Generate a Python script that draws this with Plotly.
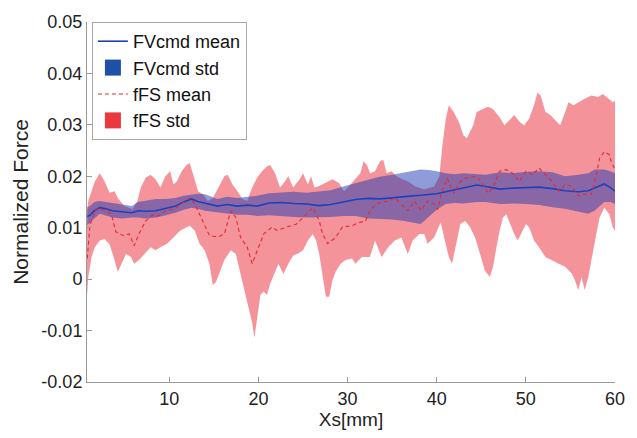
import plotly.graph_objects as go

# ---------------- data ----------------
fv_x = [0.8, 1.1, 1.6, 2.2, 2.9, 3.6, 4.7, 5.8, 6.5, 7.3, 8.5, 9.6, 10.7, 11.6, 12.5, 13.2,
        14.0, 15.4, 16.5, 17.6, 18.8, 19.85, 21.2, 22.6, 24.0, 25.4, 26.8, 28.1, 29.5, 30.9,
        32.3, 33.6, 35.0, 36.4, 37.3, 38.2, 39.1, 40.0, 41.0, 42.0, 43.0, 44.5, 45.5, 47.1,
        48.5, 50.0, 51.5, 53.0, 54.4, 55.9, 57.0, 57.7, 58.8, 59.5, 60.0]
fv_mean = [0.0122, 0.0124, 0.0133, 0.0139, 0.0137, 0.0133, 0.0131, 0.0129, 0.0133, 0.0132,
           0.0133, 0.0138, 0.0142, 0.0150, 0.0156, 0.0151, 0.0148, 0.0142, 0.0145, 0.0142,
           0.0144, 0.0142, 0.0148, 0.0149, 0.0147, 0.0146, 0.0143, 0.0145, 0.0150, 0.0155,
           0.0157, 0.0156, 0.0158, 0.0161, 0.0162, 0.0163, 0.0164, 0.0166, 0.0170, 0.0174,
           0.0177, 0.0183, 0.0180, 0.0175, 0.0177, 0.0178, 0.0179, 0.0176, 0.0172, 0.0170,
           0.0172, 0.0177, 0.0185, 0.0178, 0.0171]
fv_upper = [0.0140, 0.0142, 0.0150, 0.0152, 0.0150, 0.0148, 0.0146, 0.0142, 0.0150, 0.0152,
            0.0156, 0.0156, 0.0158, 0.0162, 0.0165, 0.0166, 0.0165, 0.0156, 0.0160, 0.0158,
            0.0160, 0.0162, 0.0167, 0.0168, 0.0170, 0.0168, 0.0170, 0.0173, 0.0180, 0.0187,
            0.0194, 0.0199, 0.0203, 0.0207, 0.0211, 0.0213, 0.0212, 0.0210, 0.0206, 0.0204,
            0.0206, 0.0205, 0.0203, 0.0208, 0.0206, 0.0209, 0.0210, 0.0208, 0.0200, 0.0203,
            0.0206, 0.0213, 0.0213, 0.0210, 0.0206]
fv_lower = [0.0105, 0.0110, 0.0118, 0.0127, 0.0124, 0.0120, 0.0118, 0.0120, 0.0120, 0.0118,
            0.0120, 0.0124, 0.0129, 0.0135, 0.0139, 0.0137, 0.0133, 0.0129, 0.0127, 0.0125,
            0.0125, 0.0123, 0.0124, 0.0123, 0.0121, 0.0120, 0.0120, 0.0121, 0.0123, 0.0123,
            0.0118, 0.0117, 0.0116, 0.0113, 0.0110, 0.0107, 0.0120, 0.0135, 0.0146, 0.0148,
            0.0147, 0.0150, 0.0150, 0.0146, 0.0147, 0.0146, 0.0144, 0.0140, 0.0137, 0.0131,
            0.0127, 0.0133, 0.0150, 0.0150, 0.0146]

ffs_mean_x = [0.8, 1.1, 1.8, 2.6, 3.5, 4.0, 4.8, 5.5, 6.06, 6.6, 7.35, 8.1, 8.8, 9.56, 10.66,
              11.76, 12.3, 12.87, 13.6, 14.5, 15.44, 16.18, 16.9, 17.46, 18.0, 18.75, 19.3,
              19.85, 20.6, 21.5, 22.06, 23.16, 24.26, 25.36, 26.1, 26.83, 27.2, 27.76, 28.67,
              29.4, 30.5, 31.3, 32.0, 32.6, 33.45, 34.55, 35.3, 36.03, 36.76, 37.5, 38.24,
              38.97, 39.7, 40.1, 40.5, 41.17, 41.9, 42.65, 43.38, 44.48, 45.2, 45.77, 46.3,
              47.06, 47.8, 48.5, 49.27, 50.0, 50.73, 51.47, 52.2, 52.94, 53.68, 54.4, 55.15,
              55.9, 56.6, 57.35, 57.9, 58.27, 58.8, 59.37, 59.56, 59.92]
ffs_mean = [0.0040, 0.0105, 0.0137, 0.0135, 0.0127, 0.0092, 0.0085, 0.0088, 0.0065, 0.0088,
            0.0113, 0.0125, 0.0123, 0.0133, 0.0137, 0.0152, 0.0158, 0.0146, 0.0120, 0.0085,
            0.0082, 0.0088, 0.0133, 0.0120, 0.0081, 0.0062, 0.0030, 0.0056, 0.0088, 0.0101,
            0.0095, 0.0101, 0.0107, 0.0126, 0.0139, 0.0113, 0.0088, 0.0069, 0.0081, 0.0101,
            0.0104, 0.0110, 0.0113, 0.0136, 0.0148, 0.0152, 0.0158, 0.0146, 0.0133, 0.0152,
            0.0133, 0.0152, 0.0146, 0.0135, 0.0165, 0.0196, 0.0167, 0.0190, 0.0197, 0.0200,
            0.0184, 0.0167, 0.0178, 0.0210, 0.0213, 0.0206, 0.0190, 0.0210, 0.0203, 0.0216,
            0.0203, 0.0190, 0.0171, 0.0184, 0.0181, 0.0162, 0.0165, 0.0165, 0.0203, 0.0235,
            0.0248, 0.0242, 0.0229, 0.0216]

ffs_up_x = [0.75, 0.91, 1.65, 2.2, 2.75, 3.3, 3.86, 4.22, 4.96, 5.88, 6.43, 6.8, 7.35, 7.9,
            8.46, 9.0, 9.56, 10.1, 10.47, 10.84, 11.39, 11.94, 12.3, 12.68, 13.23, 13.78,
            14.33, 14.89, 15.44, 16.18, 16.54, 17.09, 17.64, 18.2, 18.75, 19.3, 19.85, 20.4,
            20.95, 21.32, 21.87, 22.42, 22.97, 23.35, 23.9, 24.63, 25.0, 25.55, 25.9, 26.28,
            26.83, 27.57, 28.3, 29.04, 29.6, 30.33, 30.88, 31.43, 31.8, 32.17, 32.53, 33.08,
            33.64, 34.0, 34.38, 34.93, 35.5, 36.03, 36.8, 37.6, 38.6, 39.7, 40.3, 40.6, 41.0,
            41.36, 41.9, 42.47, 43.0, 43.38, 44.1, 44.48, 45.2, 45.77, 46.3, 47.06, 47.6,
            48.16, 48.7, 49.27, 49.8, 50.37, 50.92, 51.3, 51.65, 52.2, 52.76, 53.3, 53.86,
            54.41, 54.78, 55.33, 55.88, 56.6, 57.35, 58.1, 58.64, 59.2, 59.75, 60.0]
ffs_upper = [0.0130, 0.0152, 0.0190, 0.0206, 0.0190, 0.0168, 0.0171, 0.0158, 0.0142, 0.0136,
             0.0152, 0.0178, 0.0197, 0.0203, 0.0194, 0.0178, 0.0200, 0.0210, 0.0184, 0.0190,
             0.0210, 0.0222, 0.0226, 0.0203, 0.0171, 0.0165, 0.0152, 0.0158, 0.0175, 0.0200,
             0.0203, 0.0184, 0.0171, 0.0156, 0.0152, 0.0178, 0.0197, 0.0210, 0.0219, 0.0222,
             0.0206, 0.0178, 0.0190, 0.0200, 0.0178, 0.0194, 0.0206, 0.0184, 0.0200, 0.0178,
             0.0181, 0.0187, 0.0194, 0.0187, 0.0171, 0.0184, 0.0194, 0.0206, 0.0229, 0.0222,
             0.0206, 0.0210, 0.0229, 0.0232, 0.0206, 0.0210, 0.0200, 0.0195, 0.0190, 0.0180,
             0.0175, 0.0180, 0.0200, 0.0254, 0.0310, 0.0338, 0.0325, 0.0306, 0.0280, 0.0274,
             0.0299, 0.0325, 0.0331, 0.0335, 0.0331, 0.0315, 0.0299, 0.0309, 0.0319, 0.0306,
             0.0299, 0.0312, 0.0338, 0.0363, 0.0357, 0.0325, 0.0319, 0.0309, 0.0299, 0.0325,
             0.0344, 0.0338, 0.0344, 0.0351, 0.0357, 0.0354, 0.0360, 0.0351, 0.0344, 0.0347]

ffs_lo_x = [0.75, 0.91, 1.28, 1.65, 2.2, 2.75, 3.3, 3.86, 4.22, 4.59, 5.14, 5.7, 6.06, 6.6,
            7.17, 7.9, 8.46, 9.0, 9.75, 10.47, 11.2, 11.94, 12.3, 12.86, 13.4, 13.97, 14.5,
            14.89, 15.25, 15.62, 16.18, 16.9, 17.46, 17.8, 18.2, 18.75, 19.3, 19.55, 19.85,
            20.22, 20.58, 20.95, 21.3, 21.68, 22.24, 22.8, 23.35, 23.9, 24.45, 25.0, 25.55,
            26.1, 26.47, 26.83, 27.2, 27.57, 27.94, 28.3, 28.67, 29.23, 29.78, 30.5, 30.88,
            31.6, 32.5, 33.08, 33.82, 34.55, 35.3, 36.03, 36.76, 37.3, 38.05, 38.6, 38.97,
            39.7, 40.44, 40.8, 41.36, 41.72, 42.1, 42.65, 43.2, 43.75, 44.3, 44.86, 45.4,
            45.96, 46.32, 46.7, 47.06, 47.43, 47.8, 48.16, 48.7, 49.08, 49.45, 50.0, 50.37,
            50.92, 51.47, 52.2, 52.94, 53.68, 54.41, 55.15, 55.5, 55.88, 56.25, 56.6, 57.0,
            57.35, 57.9, 58.27, 58.8, 59.37, 59.75, 60.0]
ffs_lower = [-0.0040, 0.0004, 0.0043, 0.0062, 0.0075, 0.0078, 0.0068, 0.0037, 0.0014, 0.0030,
             0.0049, 0.0043, 0.0030, 0.0037, 0.0049, 0.0062, 0.0056, 0.0062, 0.0069, 0.0081,
             0.0094, 0.0101, 0.0104, 0.0094, 0.0069, 0.0056, 0.0030, -0.0012, -0.0005, 0.0010,
             0.0037, 0.0056, 0.0049, 0.0024, -0.0008, -0.0047, -0.0085, -0.0114, -0.0080,
             -0.0031, -0.0024, -0.0031, -0.0010, 0.0004, 0.0030, 0.0010, 0.0030, 0.0046,
             0.0050, 0.0056, 0.0075, 0.0088, 0.0075, 0.0048, 0.0008, -0.0034, -0.0034, -0.0002,
             0.0015, 0.0030, 0.0037, 0.0040, 0.0030, 0.0043, 0.0043, 0.0075, 0.0043, 0.0062,
             0.0075, 0.0081, 0.0049, 0.0075, 0.0088, 0.0088, 0.0069, 0.0081, 0.0110, 0.0088,
             0.0043, 0.0030, 0.0062, 0.0107, 0.0113, 0.0101, 0.0081, 0.0049, 0.0017, 0.0004,
             0.0024, 0.0062, 0.0094, 0.0120, 0.0126, 0.0113, 0.0088, 0.0075, 0.0088, 0.0107,
             0.0101, 0.0075, 0.0062, 0.0043, 0.0037, 0.0030, 0.0024, 0.0011, -0.0002, -0.0021,
             0.0004, -0.0021, 0.0004, 0.0037, 0.0088, 0.0120, 0.0139, 0.0126, 0.0101, 0.0094]

x_tick_vals = [10, 20, 30, 40, 50, 60]
y_tick_vals = [-0.02, -0.01, 0, 0.01, 0.02, 0.03, 0.04, 0.05]
y_tick_text = ["-0.02", "-0.01", "0", "0.01", "0.02", "0.03", "0.04", "0.05"]

# ---------------- styles ----------------
BLUE = "rgb(30,65,185)"
BLUE_FILL = "rgba(30,60,180,0.5)"
BLUE_PATCH = "rgb(30,80,170)"
RED = "rgb(230,40,50)"
RED_FILL = "rgba(235,40,55,0.5)"
RED_PATCH = "rgb(235,55,62)"
FONT = "Liberation Sans, Arial, Helvetica, sans-serif"
AXIS = "#9a9a9a"

fig = go.Figure()

# fFS std band (drawn first)
fig.add_trace(go.Scatter(
    x=ffs_up_x + ffs_lo_x[::-1], y=ffs_upper + ffs_lower[::-1],
    fill="toself", fillcolor=RED_FILL, line=dict(width=0), mode="lines",
    hoverinfo="skip", showlegend=False))

# FVcmd std band
fig.add_trace(go.Scatter(
    x=fv_x + fv_x[::-1], y=fv_upper + fv_lower[::-1],
    fill="toself", fillcolor=BLUE_FILL, line=dict(width=0), mode="lines",
    hoverinfo="skip", showlegend=False))

# FVcmd mean
fig.add_trace(go.Scatter(
    x=fv_x, y=fv_mean, mode="lines", line=dict(color=BLUE, width=1.6),
    name="FVcmd mean", legendrank=1))

# fFS mean
fig.add_trace(go.Scatter(
    x=ffs_mean_x, y=ffs_mean, mode="lines",
    line=dict(color=RED, width=1.1, dash="4px,3px"),
    name="fFS mean", legendrank=3))

# legend patches
fig.add_trace(go.Scatter(
    x=[None], y=[None], mode="markers",
    marker=dict(symbol="square", size=16, color=BLUE_PATCH),
    name="FVcmd std", legendrank=2))
fig.add_trace(go.Scatter(
    x=[None], y=[None], mode="markers",
    marker=dict(symbol="square", size=16, color=RED_PATCH),
    name="fFS std", legendrank=4))

fig.update_layout(
    width=637, height=438,
    margin=dict(l=87, r=13, t=19, b=55),
    paper_bgcolor="white", plot_bgcolor="white",
    font=dict(family=FONT, size=18, color="#222"),
    showlegend=True,
    legend=dict(x=0.0093, y=1, xanchor="left", yanchor="top",
                bgcolor="white", bordercolor="#a8a8a8", borderwidth=1,
                font=dict(family=FONT, size=18, color="#111"),
                itemwidth=30, tracegroupgap=0),
    xaxis=dict(range=[0.77, 60], tickvals=x_tick_vals, showgrid=False, zeroline=False,
               showline=True, linecolor=AXIS, linewidth=1, mirror=False,
               ticks="inside", ticklen=5, tickcolor=AXIS,
               tickfont=dict(family=FONT, size=18, color="#222"),
               title=dict(text="Xs[mm]", font=dict(family=FONT, size=19, color="#222"),
                          standoff=4)),
    yaxis=dict(range=[-0.02, 0.05], tickvals=y_tick_vals, ticktext=y_tick_text,
               showgrid=False, zeroline=False,
               showline=True, linecolor=AXIS, linewidth=1, mirror=False,
               ticks="inside", ticklen=5, tickcolor=AXIS,
               tickfont=dict(family=FONT, size=18, color="#222"),
               title=dict(text="Normalized Force",
                          font=dict(family=FONT, size=21, color="#222"),
                          standoff=7)),
)

fig.write_html("out.html")
